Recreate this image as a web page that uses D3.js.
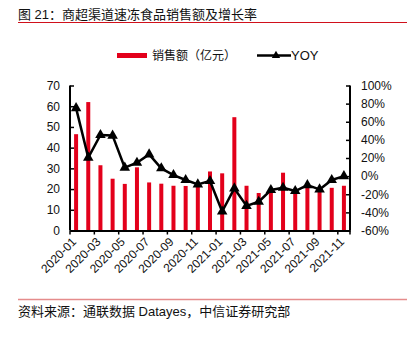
<!DOCTYPE html>
<html>
<head>
<meta charset="utf-8">
<script src="https://cdn.jsdelivr.net/npm/d3@7"></script>
<style>
  html, body { margin: 0; padding: 0; background: #fff; }
  svg { display: block; font-family: "Liberation Sans", Arial, "Noto Sans CJK SC", sans-serif; }
</style>
</head>
<body>
<svg id="chart" width="413" height="346"></svg>
<script>
// Monthly categories 2020-01 .. 2021-11
const months = [
  "2020-01","2020-02","2020-03","2020-04","2020-05","2020-06","2020-07","2020-08",
  "2020-09","2020-10","2020-11","2020-12","2021-01","2021-02","2021-03","2021-04",
  "2021-05","2021-06","2021-07","2021-08","2021-09","2021-10","2021-11"
];
// Sales (亿元)
const sales = [46.5, 62, 31.5, 25, 22.5, 30.5, 23.2, 22.6, 21.6, 21.5, 21.5, 28.5,
               27.6, 54.7, 21.6, 18.1, 19.5, 27.9, 19.5, 21, 19, 20.6, 21.6];
// Year-over-year growth (%)
const yoy = [75, 20.4, 45.4, 44.7, 9.3, 14.8, 24, 8.6, 1.2, -4.3, -9.1, -5.4,
             -39, -13.6, -32.8, -28.3, -15.4, -12.8, -16.5, -9.9, -14.7, -4.3, 0];
const leftTicks = [0, 10, 20, 30, 40, 50, 60, 70];
const rightTicks = [-60, -40, -20, 0, 20, 40, 60, 80, 100];

const titleText = "图 21：商超渠道速冻食品销售额及增长率";
const sourceText = "资料来源：通联数据 Datayes，中信证券研究部";
const legendSales = "销售额（亿元）";
const legendYoy = "YOY";

const svg = d3.select("#chart");
const plot = { left: 70, right: 350, top: 85.5, bottom: 230.5 };
const red = "#e3001b";

// Title and rules
svg.append("text").attr("x", 18).attr("y", 19)
  .attr("font-size", 13).attr("fill", "#111").text(titleText);
svg.append("line").attr("x1", 18).attr("x2", 407).attr("y1", 22.5).attr("y2", 22.5)
  .attr("stroke", "#d0101b").attr("stroke-width", 1.2);
svg.append("line").attr("x1", 18).attr("x2", 407).attr("y1", 299.5).attr("y2", 299.5)
  .attr("stroke", "#e58c8c").attr("stroke-width", 1.5);
svg.append("text").attr("x", 18).attr("y", 316)
  .attr("font-size", 13).attr("fill", "#111").text(sourceText);

// Scales
const x = d3.scaleBand().domain(months).range([plot.left, plot.right]).padding(0);
const yL = d3.scaleLinear().domain([0, 70]).range([plot.bottom, plot.top]);
const yR = d3.scaleLinear().domain([-60, 100]).range([plot.bottom, plot.top]);

// Bars
const barW = 4;
svg.append("g").selectAll("rect").data(sales).join("rect")
  .attr("x", (d, i) => x(months[i]) + x.bandwidth() / 2 - barW / 2)
  .attr("y", d => yL(d))
  .attr("width", barW)
  .attr("height", d => yL(0) - yL(d))
  .attr("fill", red);

// YOY line with triangle markers
const line = d3.line()
  .x((d, i) => x(months[i]) + x.bandwidth() / 2)
  .y(d => yR(d));
svg.append("path").datum(yoy).attr("d", line)
  .attr("fill", "none").attr("stroke", "#000").attr("stroke-width", 2.5)
  .attr("stroke-linejoin", "round");
const tri = d3.symbol().type(d3.symbolTriangle).size(48);
svg.append("g").selectAll("path").data(yoy).join("path")
  .attr("d", tri)
  .attr("transform", (d, i) => `translate(${x(months[i]) + x.bandwidth() / 2},${yR(d)})`)
  .attr("fill", "#000");

// Left axis
const axL = svg.append("g").attr("transform", `translate(${plot.left},0)`)
  .call(d3.axisLeft(yL).tickValues(leftTicks).tickSize(-4).tickPadding(10));
// Right axis
const axR = svg.append("g").attr("transform", `translate(${plot.right},0)`)
  .call(d3.axisRight(yR).tickValues(rightTicks).tickSize(-4).tickPadding(11)
    .tickFormat(d => d + "%"));
// Bottom axis: ticks on every other band edge, labels on every other month
const axB = svg.append("g").attr("transform", `translate(0,${plot.bottom})`)
  .call(d3.axisBottom(x).tickSize(0).tickFormat(d => months.indexOf(d) % 2 === 0 ? d : ""));
axB.selectAll(".tick text")
  .attr("transform", "translate(1,12) rotate(-45)")
  .attr("text-anchor", "end").attr("dx", 0).attr("dy", 0).attr("y", 0);
const edgeTicks = months.filter((m, i) => i % 2 === 0).map(m => x(m));
edgeTicks.push(plot.right);
axB.selectAll("line.edge").data(edgeTicks).join("line").attr("class", "edge")
  .attr("x1", d => d).attr("x2", d => d).attr("y1", 0).attr("y2", 4)
  .attr("stroke", "#000").attr("stroke-width", 1.5);

[axL, axR, axB].forEach(ax => {
  ax.select(".domain").attr("stroke", "#000").attr("stroke-width", 2);
  ax.selectAll(".tick line").attr("stroke", "#000").attr("stroke-width", 1.5);
  ax.selectAll("text").attr("font-size", 12).attr("fill", "#111")
    .attr("font-family", "'Liberation Sans', Arial, sans-serif");
});
axL.select(".domain").attr("d", `M0,${plot.bottom}V${plot.top}`);
axR.select(".domain").attr("d", `M0,${plot.bottom}V${plot.top}`);

// Legend
const lg = svg.append("g");
lg.append("rect").attr("x", 117).attr("y", 53).attr("width", 30).attr("height", 5).attr("fill", red);
lg.append("text").attr("x", 152).attr("y", 60).attr("font-size", 12).attr("fill", "#111").text(legendSales);
lg.append("line").attr("x1", 257).attr("x2", 291).attr("y1", 55.5).attr("y2", 55.5)
  .attr("stroke", "#000").attr("stroke-width", 2.5);
lg.append("path").attr("d", d3.symbol().type(d3.symbolTriangle).size(30))
  .attr("transform", "translate(276,55.5)").attr("fill", "#000");
lg.append("text").attr("x", 291).attr("y", 60).attr("font-size", 13).attr("fill", "#111").text(legendYoy);
</script>
</body>
</html>
